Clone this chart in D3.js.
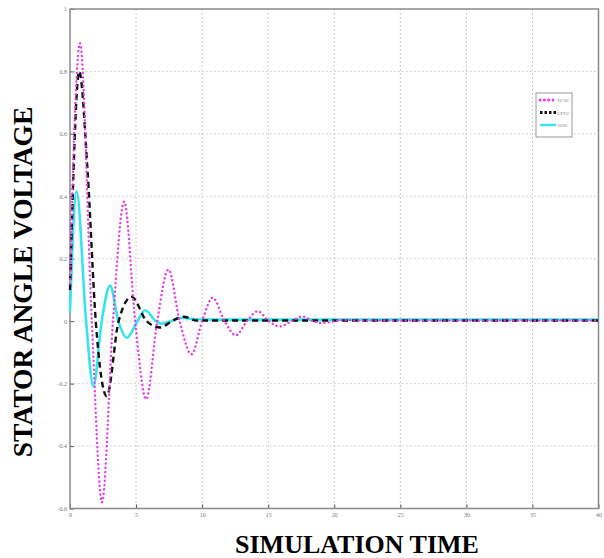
<!DOCTYPE html>
<html>
<head>
<meta charset="utf-8">
<script src="https://cdn.jsdelivr.net/npm/d3@7"></script>
<style>
  html, body { margin: 0; padding: 0; background: #fff; }
  svg { display: block; }
</style>
</head>
<body>
<svg id="chart" width="604" height="558"></svg>
<script>
// Stator angle response for three compensation schemes (time in s)
const seriesNames = ["TCSC", "UPFC", "SSSC"];

const tcscTime  = [0, 0.35, 0.76, 1.65, 2.42, 3.25, 4.1, 4.93, 5.76, 6.6, 7.45, 8.3, 9.2, 10.0, 10.8, 11.7, 12.55, 13.4, 14.2, 15.05, 15.9, 16.75, 17.6, 18.4, 19.2, 20.0, 20.8, 22, 40];
const tcscValue = [0.12, 0.64, 0.89, 0, -0.58, 0, 0.383, 0, -0.25, 0, 0.165, 0, -0.106, 0, 0.075, 0, -0.045, 0, 0.032, 0, -0.017, 0, 0.015, 0, -0.006, 0, 0.004, 0.002, 0.002];

const upfcTime  = [0, 0.7, 1.33, 1.95, 2.78, 3.68, 4.67, 5.8, 6.85, 7.7, 8.6, 9.6, 11, 40];
const upfcValue = [0.1, 0.80, 0.48, 0, -0.24, 0, 0.078, 0, -0.02, 0, 0.014, 0.002, 0.002, 0.002];

const ssscTime  = [0, 0.5, 1.22, 1.77, 2.4, 3.03, 3.66, 4.3, 5.1, 5.68, 6.5, 6.9, 7.6, 8.4, 9.5, 11, 40];
const ssscValue = [0.03, 0.415, 0, -0.208, 0, 0.114, 0, -0.053, 0, 0.035, 0, -0.008, 0, 0.011, 0.006, 0.005, 0.005];

const xTicks = [0, 5, 10, 15, 20, 25, 30, 35, 40];
const xTickLabels = ["0", "5", "10", "15", "20", "25", "30", "35", "40"];
const yTicks = [-0.6, -0.4, -0.2, 0, 0.2, 0.4, 0.6, 0.8, 1];
const yTickLabels = ["-0.6", "-0.4", "-0.2", "0", "0.2", "0.4", "0.6", "0.8", "1"];

const svg = d3.select("#chart");
const W = 604, H = 558;
svg.append("rect").attr("width", W).attr("height", H).attr("fill", "#fff");

const plotLeft = 70, plotRight = 598.5, plotTop = 9, plotBottom = 508.5;
const x = d3.scaleLinear().domain([0, 40]).range([plotLeft, plotRight]);
const y = d3.scaleLinear().domain([-0.6, 1]).range([plotBottom, plotTop]);

// grid
const grid = svg.append("g");
grid.selectAll("line.vg").data(xTicks.slice(1, -1)).join("line")
  .attr("x1", d => x(d)).attr("x2", d => x(d))
  .attr("y1", plotTop).attr("y2", plotBottom)
  .attr("stroke", "#b8b8b8").attr("stroke-width", 1)
  .attr("stroke-dasharray", "1.5,2.5");
grid.selectAll("line.hg").data(yTicks.slice(1, -1)).join("line")
  .attr("x1", plotLeft).attr("x2", plotRight)
  .attr("y1", d => y(d)).attr("y2", d => y(d))
  .attr("stroke", "#c4c4c4").attr("stroke-width", 1)
  .attr("stroke-dasharray", "1.5,2.5");

// axes with inward ticks
const axisColor = "#8a8a8a";
const xAxis = d3.axisBottom(x).tickValues(xTicks).tickSize(-4).tickPadding(4)
  .tickFormat((d, i) => xTickLabels[i]);
const gx = svg.append("g").attr("transform", `translate(0,${plotBottom})`).call(xAxis);
const yAxis = d3.axisLeft(y).tickValues(yTicks).tickSize(-4).tickPadding(3)
  .tickFormat((d, i) => yTickLabels[i]);
const gy = svg.append("g").attr("transform", `translate(${plotLeft},0)`).call(yAxis);
[gx, gy].forEach(g => {
  g.select(".domain").remove();
  g.selectAll(".tick line").attr("stroke", "#555").attr("stroke-width", 1);
  g.selectAll(".tick text").attr("fill", "#777").attr("font-size", 6)
    .attr("font-family", "Liberation Serif, serif");
});

// frame
svg.append("rect").attr("x", plotLeft).attr("y", plotTop)
  .attr("width", plotRight - plotLeft).attr("height", plotBottom - plotTop)
  .attr("fill", "none").attr("stroke", axisColor).attr("stroke-width", 1.5);

// traces
const line = d3.line().x(d => x(d[0])).y(d => y(d[1])).curve(d3.curveMonotoneX);
const plot = svg.append("g");

plot.append("path").datum(d3.zip(ssscTime, ssscValue))
  .attr("d", line).attr("fill", "none")
  .attr("stroke", "#35e4ee").attr("stroke-width", 2.6);

plot.append("path").datum(d3.zip(upfcTime, upfcValue))
  .attr("d", line).attr("fill", "none")
  .attr("stroke", "#111").attr("stroke-width", 2.4)
  .attr("stroke-dasharray", "6,4");

plot.append("path").datum(d3.zip(tcscTime, tcscValue))
  .attr("d", line).attr("fill", "none")
  .attr("stroke", "#e23ee6").attr("stroke-width", 2.4)
  .attr("stroke-linecap", "round")
  .attr("stroke-dasharray", "0.1,4.2");

// legend
const lg = svg.append("g").attr("transform", "translate(536,93)");
lg.append("rect").attr("width", 36).attr("height", 44)
  .attr("fill", "#fff").attr("stroke", "#999").attr("stroke-width", 1);
const legendStyles = [
  { color: "#e23ee6", dash: "0.1,4.2", cap: "round", w: 3 },
  { color: "#111", dash: "2.5,2", cap: "butt", w: 3 },
  { color: "#35e4ee", dash: null, cap: "butt", w: 2.4 }
];
seriesNames.forEach((name, i) => {
  const yy = 7 + i * 12.5;
  const s = legendStyles[i];
  lg.append("line").attr("x1", 4).attr("x2", 20).attr("y1", yy).attr("y2", yy)
    .attr("stroke", s.color).attr("stroke-width", s.w)
    .attr("stroke-linecap", s.cap)
    .attr("stroke-dasharray", s.dash);
  lg.append("text").attr("x", 21).attr("y", yy + 2).text(name)
    .attr("font-size", 5).attr("fill", "#888")
    .attr("font-family", "Liberation Serif, serif");
});

// axis titles
svg.append("text").attr("x", 357).attr("y", 553)
  .attr("text-anchor", "middle")
  .attr("font-family", "Liberation Serif, Times New Roman, serif")
  .attr("font-weight", "bold").attr("font-size", 26)
  .text("SIMULATION TIME");

svg.append("text")
  .attr("transform", "translate(32,282) rotate(-90)")
  .attr("text-anchor", "middle")
  .attr("font-family", "Liberation Serif, Times New Roman, serif")
  .attr("font-weight", "bold").attr("font-size", 27.5)
  .text("STATOR ANGLE VOLTAGE");
</script>
</body>
</html>
